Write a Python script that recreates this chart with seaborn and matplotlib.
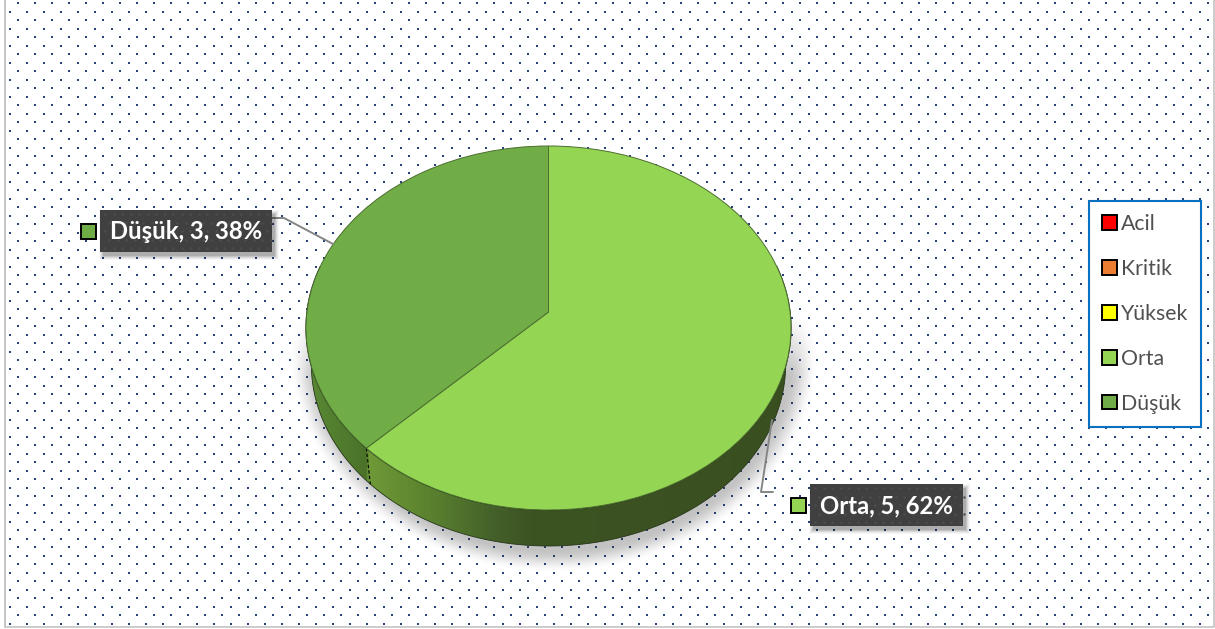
import numpy as np
import matplotlib
matplotlib.use("Agg")
import matplotlib.pyplot as plt
from matplotlib.colors import LinearSegmentedColormap
from matplotlib.patches import Patch, Polygon, Rectangle
from matplotlib.transforms import Transform
import seaborn as sns

# Ticket counts per priority level
categories = ["Acil", "Kritik", "Yüksek", "Orta", "Düşük"]
counts = [0, 0, 0, 5, 3]
slice_colors = ["#ff0000", "#ed7d31", "#ffff00", "#94d553", "#70ad47"]

sns.set_theme(style="white")
plt.rcParams["font.family"] = ["Lato", "DejaVu Sans"]
palette = sns.color_palette(slice_colors)

W, H = 1215, 629
fig = plt.figure(figsize=(W / 100, H / 100), dpi=100, facecolor="white")
ax = fig.add_axes([0, 0, 1, 1])


class TiltedDisc(Transform):
    """Perspective view of the unit pie, giving canvas coordinates."""
    input_dims = 2
    output_dims = 2

    def __init__(self, cx, cy, a, b, k):
        super().__init__()
        self.cx, self.cy, self.a, self.b, self.k = cx, cy, a, b, k

    def transform_non_affine(self, values):
        values = np.asarray(values, dtype=float)
        w = 1 + self.k * values[:, 1]
        return np.column_stack((self.cx + self.a * values[:, 0] / w,
                                self.cy - self.b * values[:, 1] / w))


disc = TiltedDisc(548.5, 312, 241.6, 180.6, 0.0879)
DEPTH = 36
WALL_SHRINK = 0.978

# Pie top, laid out by matplotlib and then tilted
wedges, _ = ax.pie(counts, colors=palette, startangle=90, counterclock=False,
                   wedgeprops=dict(edgecolor="#4c6e30", linewidth=0.7))
for w, n in zip(wedges, counts):
    w.set_transform(disc + ax.transData)
    w.set_zorder(6)
    if n == 0:
        w.set_visible(False)

ax.set_aspect("auto")
ax.set_xlim(0, W)
ax.set_ylim(H, 0)
ax.axis("off")

# Dotted page background
for i, y in enumerate(np.arange(3, H - 3, 8.5)):
    xs = np.arange(18 if i % 2 == 0 else 10, W - 4, 17)
    xs = xs[xs > 6]
    ax.scatter(xs, np.full_like(xs, y, dtype=float), s=2.3, marker="s",
               color="#27427a", linewidths=0, zorder=1)

# Frame lines on the left, right and bottom
ax.plot([4.5, 4.5], [0, 627], color="#c4c4c4", lw=1.4, zorder=1)
ax.plot([4.5, 1214, 1214], [627, 627, 0], color="#c4c4c4", lw=1.2, zorder=1)

# Soft shadow under the disc, fading out towards its upper half
gx, gy = np.meshgrid(np.arange(270, 840), np.arange(150, 600))
dist = np.hypot((gx - 553) / 257, (gy - 352) / 214)
fade = np.clip((1.03 - dist) / 0.11, 0, 1)
fade = fade * fade * (3 - 2 * fade)
fade = fade * np.clip((gy - 315) / 60, 0, 1)
shadow = np.zeros(fade.shape + (4,))
shadow[..., :3] = 0.2
shadow[..., 3] = 0.30 * fade
ax.imshow(shadow, extent=(270, 840, 600, 150), aspect="auto", zorder=2,
          interpolation="bilinear")

# Side wall: the rim of the disc pushed down, filled with a horizontal gradient
t = np.radians(np.linspace(-195, 15, 240))
rim = disc.transform_non_affine(np.column_stack((np.cos(t), np.sin(t))))
low = rim.copy()
low[:, 0] = disc.cx + (low[:, 0] - disc.cx) * WALL_SHRINK
low[:, 1] += DEPTH
outline = np.vstack((rim, low[::-1]))
wall_shape = Polygon(outline, closed=True, facecolor="none", edgecolor="none",
                     transform=ax.transData)
ax.add_patch(wall_shape)

seam_angle = np.pi / 2 - 2 * np.pi * counts[3] / sum(counts)
seam_top = disc.transform_non_affine(np.array([[np.cos(seam_angle), np.sin(seam_angle)]]))[0]
seam_bottom = (disc.cx + (seam_top[0] - disc.cx) * WALL_SHRINK, seam_top[1] + DEPTH)

span = 800 - 300
stops = [(0.0, "#5c8c35"), ((seam_top[0] - 300 - 1) / span, "#4a7229"),
         ((seam_top[0] - 300 + 1) / span, "#6f9a37"), (0.27, "#587f2e"),
         (0.38, "#45622a"), (0.46, "#3c5322"), (1.0, "#3a4f20")]
wall_cmap = LinearSegmentedColormap.from_list("wall", stops)
wall = ax.imshow(np.linspace(0, 1, 500)[None, :], extent=(300, 800, 560, 300),
                 aspect="auto", cmap=wall_cmap, zorder=3)
wall.set_clip_path(wall_shape)
ax.plot(low[:, 0], low[:, 1], color="#26351a", lw=0.6, zorder=4)
ax.plot(rim[:, 0], rim[:, 1], color="#1c2812", lw=0.8, zorder=5)
ax.plot([seam_top[0], seam_bottom[0]], [seam_top[1], seam_bottom[1]],
        color="black", lw=0.8, ls=(0, (3, 2)), zorder=5)
ax.set_xlim(0, W)
ax.set_ylim(H, 0)


def data_label(x0, y0, x1, y1, swatch_x, color, text):
    """Dark callout with a drop shadow, a dotted texture and a colour key."""
    for grow, alpha in zip((8, 6, 4, 2, 0), (0.03, 0.05, 0.07, 0.09, 0.12)):
        ax.add_patch(Rectangle((x0 + 3 - grow / 2, y0 + 4 - grow / 2),
                               x1 - x0 + grow, y1 - y0 + grow,
                               facecolor="black", alpha=alpha, lw=0, zorder=7))
    ax.add_patch(Rectangle((x0, y0), x1 - x0, y1 - y0, facecolor="#404040",
                           lw=0, zorder=8))
    px, py = np.meshgrid(np.arange(x0 + 5, x1 - 2, 8.5),
                         np.arange(y0 + 4, y1 - 2, 8.5))
    px[1::2] += 4.25
    ax.scatter(px.ravel(), py.ravel(), s=3, marker="o", color="#4e4e4e",
               linewidths=0, zorder=9)
    ax.text(x0 + (x1 - x0) / 2, (y0 + y1) / 2 + 0.5, text, color="white",
            fontsize=17.2, fontweight="bold", ha="center", va="center", zorder=10)
    ax.add_patch(Rectangle((swatch_x, (y0 + y1) / 2 - 7.5), 15, 15,
                           facecolor=color, edgecolor="black", lw=1.4, zorder=8))


total = sum(counts)
data_label(100, 210, 272, 252, 81, palette[4],
           f"{categories[4]}, {counts[4]}, {100 * counts[4] / total:.0f}%")
data_label(810, 484, 963, 526, 791, palette[3],
           f"{categories[3]}, {counts[3]}, {100 * counts[3] / total:.0f}%")

# Leader lines from the callouts to the disc
ax.plot([272, 284, 333], [218, 218, 244], color="#858585", lw=1.4, zorder=6.5)
ax.plot([773, 761, 772], [492, 492, 420], color="#858585", lw=1.4, zorder=6.5)

# Legend lists every priority, including the empty ones
handles = [Patch(facecolor=c, edgecolor="black", linewidth=1.4) for c in palette]
legend = ax.legend(handles, categories, loc="upper left",
                   bbox_to_anchor=(1089, 201), bbox_transform=ax.transData,
                   borderaxespad=0, frameon=True, fancybox=False,
                   framealpha=1, facecolor="white", edgecolor="#0a70c0",
                   fontsize=15.3, labelcolor="#505050", labelspacing=1.17,
                   handlelength=0.68, handleheight=0.68, handletextpad=0.2,
                   borderpad=0.62)
legend.get_frame().set_linewidth(1.5)
legend.set_zorder(12)

fig.savefig("out.png", dpi=100, facecolor="white")
